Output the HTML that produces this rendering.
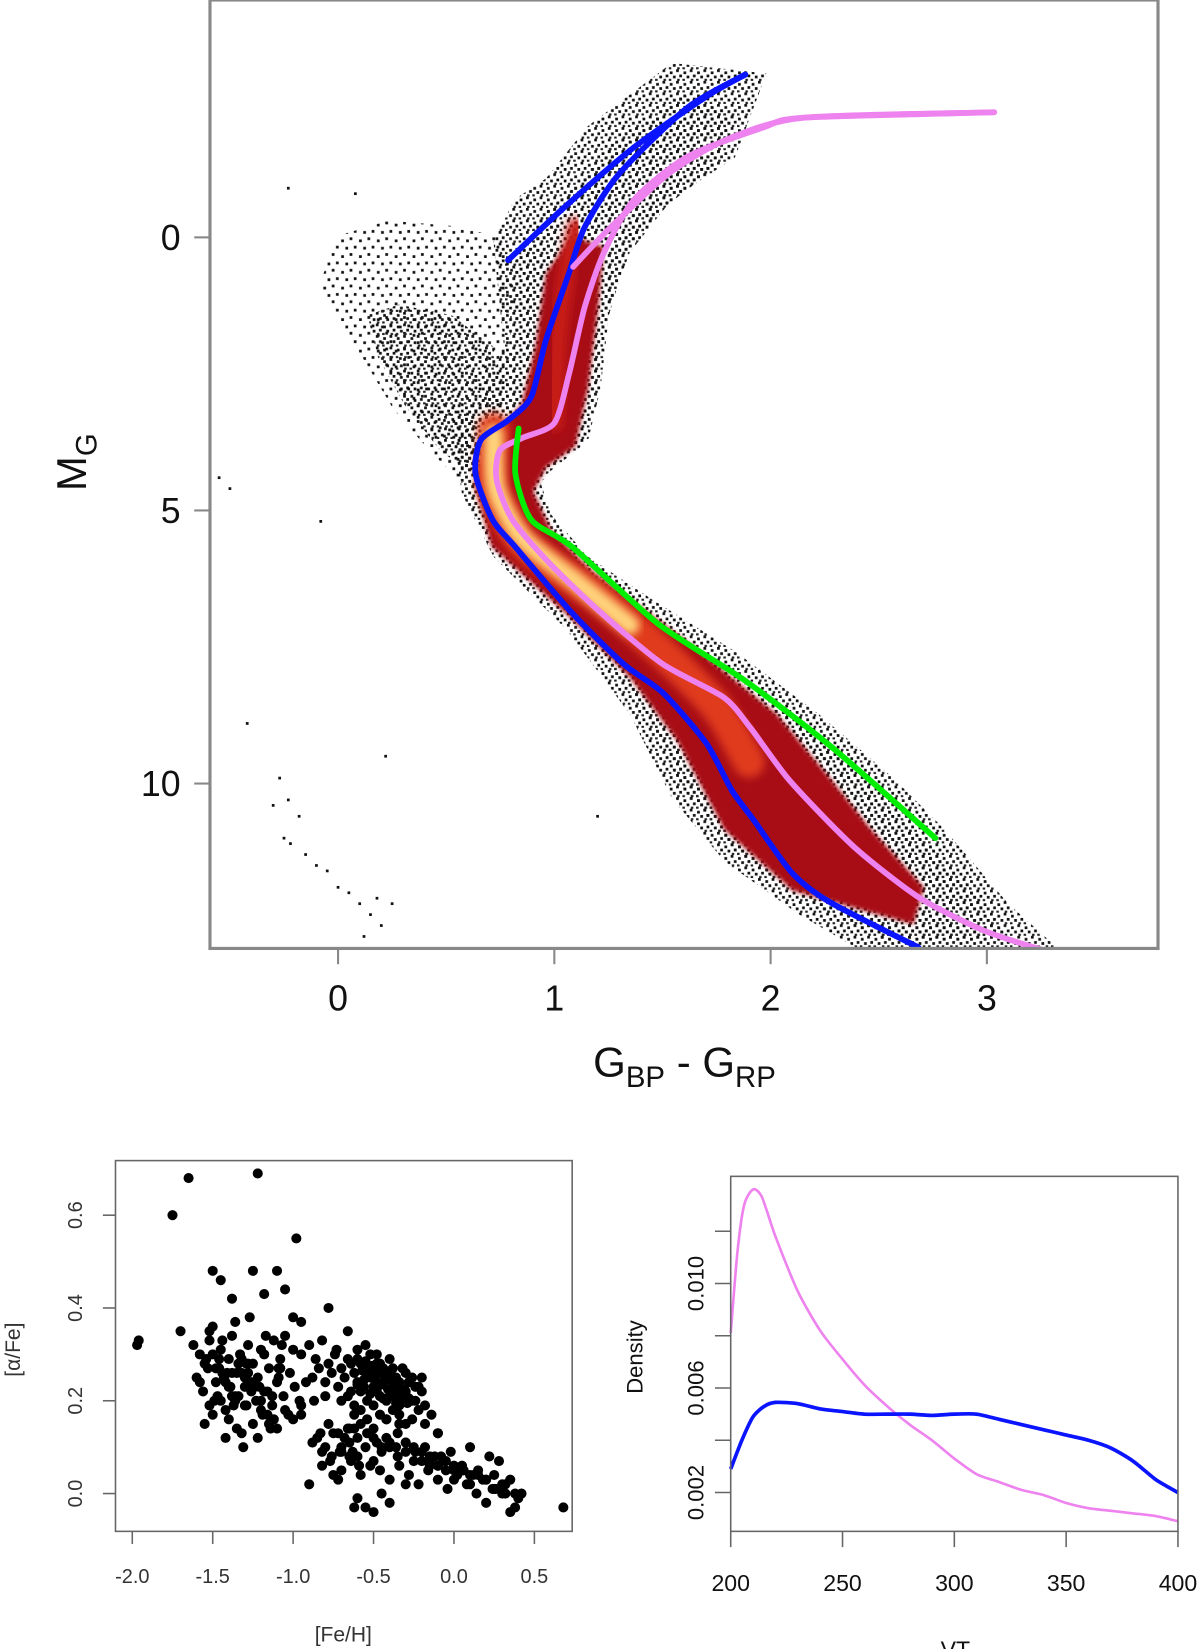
<!DOCTYPE html>
<html><head><meta charset="utf-8"><style>
html,body{margin:0;padding:0;background:#fff;}
svg{display:block;font-family:"Liberation Sans",sans-serif;}
</style></head><body>
<svg id="fig" width="1200" height="1649" viewBox="0 0 1143 1570" preserveAspectRatio="none" xmlns="http://www.w3.org/2000/svg">
<defs>
<filter id="blur2"><feGaussianBlur stdDeviation="2"/></filter>
<filter id="blur4"><feGaussianBlur stdDeviation="4"/></filter>
<pattern id="speck" width="13" height="11" patternUnits="userSpaceOnUse">
<rect x="1" y="2" width="2.6" height="2.6" fill="#111"/><rect x="7" y="0" width="2.6" height="2.6" fill="#111"/>
<rect x="10" y="5" width="2.6" height="2.6" fill="#111"/><rect x="4" y="6" width="2.6" height="2.6" fill="#111"/>
<rect x="0" y="9" width="2.4" height="2.4" fill="#222"/><rect x="8" y="9" width="2.4" height="2.4" fill="#222"/>
</pattern>
<pattern id="speck2" width="17" height="15" patternUnits="userSpaceOnUse">
<rect x="2" y="3" width="2.6" height="2.6" fill="#111"/><rect x="10" y="1" width="2.6" height="2.6" fill="#111"/>
<rect x="14" y="9" width="2.6" height="2.6" fill="#111"/><rect x="6" y="10" width="2.6" height="2.6" fill="#111"/>
</pattern>
<clipPath id="cmdclip"><rect x="200" y="0" width="903" height="903"/></clipPath>
</defs>
<g id="cmd"></g>
<g id="afe"></g>
<g id="dens"></g>
</svg>
<script>
// ---------- CMD chart data ----------
const blueMainX=[1.883,1.617,1.301,1.141,1.068,0.961,0.893,0.786,0.660,0.636,0.714,0.820,1.083,1.320,1.505,1.704,1.820,1.922,2.102,2.282,2.684];
const blueMainY=[-2.98,-2.38,-1.17,-0.19,0.65,1.88,2.92,3.35,3.71,4.33,5.17,5.67,6.88,7.81,8.35,9.27,10.12,10.67,11.65,12.19,13.0];
const blueBranchX=[0.786,1.049,1.369,1.704,1.883];
const blueBranchY=[0.42,-0.56,-1.65,-2.58,-2.98];
const pinkMainX=[3.034,2.150,1.971,1.617,1.369,1.228,1.141,1.068,1.0,0.854,0.748,0.733,0.806,0.981,1.218,1.5,1.782,1.903,2.087,2.383,2.684,2.985,3.267];
const pinkMainY=[-2.29,-2.19,-2.02,-1.48,-0.69,0.29,1.27,2.5,3.40,3.67,3.90,4.44,5.17,5.98,6.88,7.81,8.42,8.96,9.94,11.15,12.08,12.69,13.06];
const pinkBranchX=[1.087,1.262,1.529,1.796,2.150,3.034];
const pinkBranchY=[0.54,-0.19,-1.17,-1.79,-2.19,-2.29];
const greenX=[0.835,0.820,0.893,1.083,1.481,1.883,2.282,2.762];
const greenY=[3.5,4.33,5.17,5.67,7.08,8.12,9.33,11.0];
const cmdXTicks=[0,1,2,3];
const cmdYTicks=[0,5,10];
const outX=[-0.23,-0.18,-0.3,-0.25,-0.22,-0.15,-0.1,-0.05,0.0,0.05,0.1,0.15,0.2,0.18,0.25,-0.42,-0.5,-0.55,-0.08,0.22,0.08,-0.23,1.2,-0.27,0.12];
const outY=[10.3,10.6,10.4,11.0,11.1,11.3,11.5,11.6,11.9,12.0,12.2,12.4,12.6,12.1,12.2,8.9,4.6,4.4,5.2,9.5,-0.8,-0.9,10.6,9.9,12.8];
// ---------- [alpha/Fe] chart data ----------
const feh=[-1.97,-1.96,-1.75,-1.65,-1.22,-0.98,-1.7,-1.5,-1.45,-1.38,-1.25,-1.1,-1.05,-1.18,-0.78,-1.0,-0.95,
-1.62,-1.58,-1.55,-1.52,-1.5,-1.48,-1.45,-1.43,-1.4,-1.38,-1.35,-1.33,-1.3,-1.28,-1.25,-1.22,-1.2,-1.18,-1.15,-1.12,-1.1,-1.08,-1.05,-1.02,-1.0,
-1.6,-1.56,-1.53,-1.49,-1.46,-1.42,-1.39,-1.36,-1.32,-1.29,-1.26,-1.23,-1.19,-1.16,-1.13,-1.09,-1.06,-1.03,-0.99,-0.96,
-1.55,-1.5,-1.45,-1.4,-1.35,-1.3,-1.25,-1.2,-1.15,-1.1,-1.05,-1.0,-0.95,-1.42,-1.32,-1.22,-1.12,-1.48,-1.38,-1.28,-1.18,-1.08,
-1.52,-1.44,-1.36,-1.27,-1.17,-1.07,-1.34,-1.24,-1.14,-1.52,-1.31,
-0.95,-0.9,-0.86,-0.82,-0.78,-0.74,-0.7,-0.66,-0.62,-0.58,-0.54,-0.5,-0.46,-0.42,-0.38,-0.34,-0.3,-0.26,-0.22,
-0.88,-0.84,-0.8,-0.76,-0.72,-0.68,-0.64,-0.6,-0.56,-0.52,-0.48,-0.44,-0.4,-0.36,-0.32,-0.28,-0.24,-0.2,
-0.7,-0.66,-0.62,-0.58,-0.54,-0.5,-0.46,-0.42,-0.38,-0.34,-0.3,-0.26,-0.22,-0.18,
-0.64,-0.6,-0.56,-0.52,-0.48,-0.44,-0.4,-0.36,-0.32,-0.28,-0.24,-0.2,
-0.62,-0.58,-0.54,-0.5,-0.46,-0.42,-0.38,-0.34,-0.3,-0.26,-0.58,-0.5,-0.42,-0.34,-0.46,-0.38,-0.3,
-0.66,-0.55,-0.6,-0.48,-0.4,-0.18,-0.14,-0.1,
-0.85,-0.8,-0.75,-0.7,-0.65,-0.6,-0.55,-0.5,-0.45,-0.4,-0.35,-0.3,-0.25,-0.2,-0.15,-0.1,-0.05,0.0,0.05,0.1,0.15,0.2,0.25,0.3,0.35,
-0.82,-0.76,-0.7,-0.64,-0.58,-0.52,-0.46,-0.4,-0.34,-0.28,-0.22,-0.16,-0.1,-0.04,0.02,0.08,0.14,0.2,0.26,0.32,0.38,
-0.78,-0.72,-0.66,-0.6,-0.54,-0.48,-0.42,-0.36,-0.3,-0.24,-0.18,-0.12,-0.06,0.0,0.06,0.12,0.18,0.24,0.3,0.4,
-0.9,-0.75,-0.6,-0.45,-0.3,-0.15,-0.08,0.05,0.2,0.35,0.38,0.42,0.68,-0.62,-0.5,-0.55,-0.4,
-0.95,-0.88,-0.82,-0.72,-0.62,-0.1,-0.02,0.1,0.22,0.28,
-0.6,-0.56,-0.52,-0.48,-0.44,-0.4,-0.36,-0.32,-0.28,-0.57,-0.53,-0.49,-0.45,-0.41,-0.37,-0.33,-0.29,-0.55,-0.51,-0.47,-0.43,-0.39,-0.35,-0.31,
-1.5,-1.46,-1.42,-1.38,-1.34,-1.3,-1.26,-1.44,-1.4,-1.36,-1.32,-1.28,-1.24,-1.2,-1.16,
-0.5,-0.45,-0.4,-0.3,-0.2,-0.1,-0.05,0.0,0.1,0.15,0.25,0.32,-0.35,-0.25,-0.15,0.05,-0.7,-0.65,
-1.58,-1.54,-1.47,-1.41,-1.37,-1.29,-1.21,-1.13,-1.09,-0.92,-0.87,-0.8,-0.73,-0.68,-0.63,-0.59,-0.71,-0.77,-0.83,-0.65];
const afe=[0.32,0.33,0.6,0.68,0.69,0.55,0.35,0.48,0.46,0.42,0.48,0.48,0.44,0.43,0.40,0.38,0.37,
0.32,0.3,0.28,0.33,0.36,0.27,0.31,0.25,0.29,0.34,0.26,0.30,0.23,0.32,0.28,0.25,0.31,0.22,0.27,0.33,0.24,0.29,0.34,0.26,0.31,
0.25,0.22,0.27,0.2,0.29,0.18,0.23,0.21,0.26,0.19,0.24,0.2,0.17,0.22,0.19,0.25,0.21,0.17,0.23,0.2,
0.15,0.17,0.2,0.16,0.14,0.19,0.15,0.18,0.15,0.14,0.18,0.16,0.19,0.12,0.13,0.12,0.16,0.24,0.26,0.28,0.3,0.27,
0.35,0.33,0.37,0.38,0.34,0.32,0.21,0.23,0.14,0.19,0.10,
0.3,0.32,0.29,0.33,0.28,0.3,0.27,0.29,0.26,0.28,0.27,0.26,0.28,0.25,0.27,0.24,0.26,0.25,0.23,
0.25,0.27,0.24,0.26,0.23,0.25,0.22,0.24,0.23,0.25,0.22,0.24,0.21,0.23,0.22,0.24,0.2,0.22,
0.2,0.21,0.19,0.22,0.2,0.23,0.21,0.2,0.22,0.19,0.21,0.2,0.18,0.19,
0.28,0.29,0.27,0.3,0.28,0.27,0.26,0.25,0.27,0.24,0.23,0.25,
0.17,0.18,0.16,0.19,0.17,0.16,0.18,0.17,0.15,0.16,0.15,0.14,0.16,0.15,0.26,0.24,0.22,
0.35,0.32,0.31,0.3,0.29,0.15,0.17,0.13,
0.12,0.1,0.13,0.09,0.11,0.08,0.1,0.07,0.09,0.1,0.08,0.11,0.07,0.09,0.08,0.06,0.07,0.05,0.06,0.04,0.05,0.03,0.04,0.02,0.03,
0.06,0.08,0.05,0.07,0.04,0.06,0.05,0.03,0.06,0.04,0.02,0.05,0.03,0.01,0.04,0.02,0.0,0.03,0.01,0.02,0.0,
0.15,0.13,0.14,0.12,0.13,0.11,0.12,0.1,0.11,0.09,0.1,0.08,0.07,0.06,0.05,0.04,0.03,0.01,0.0,-0.01,
0.02,0.04,-0.01,0.0,0.02,0.06,0.08,0.05,-0.02,-0.04,-0.03,0.0,-0.03,-0.03,-0.04,-0.03,-0.02,
0.17,0.11,0.09,0.03,0.14,0.13,0.09,0.1,0.08,0.07,
0.235,0.245,0.215,0.235,0.205,0.225,0.195,0.215,0.205,0.265,0.255,0.245,0.235,0.225,0.215,0.205,0.195,0.285,0.275,0.265,0.255,0.245,0.235,0.225,
0.3,0.27,0.24,0.21,0.28,0.25,0.22,0.26,0.23,0.2,0.29,0.26,0.23,0.2,0.17,
0.12,0.1,0.11,0.09,0.07,0.06,0.05,0.03,0.02,0.04,0.01,0.0,0.13,0.1,0.07,0.05,0.1,0.08,
0.24,0.29,0.21,0.26,0.19,0.28,0.23,0.21,0.27,0.24,0.2,0.21,0.31,0.12,0.09,0.06,0.09,0.07,0.13,0.14];
const afeXTicks=[-2.0,-1.5,-1.0,-0.5,0.0,0.5];
const afeXLabels=["-2.0","-1.5","-1.0","-0.5","0.0","0.5"];
const afeYTicks=[0.0,0.2,0.4,0.6];
const afeYLabels=["0.0","0.2","0.4","0.6"];
// ---------- Density chart data ----------
const vtPink=[200,203,206,210,214,220,230,240,250,260,270,280,290,300,310,320,330,340,350,360,370,380,390,400];
const densPink=[0.0081,0.0112,0.0130,0.0136,0.0133,0.0118,0.0097,0.0082,0.0071,0.0061,0.0053,0.0046,0.0040,0.0033,0.0027,0.0024,0.0021,0.0019,0.0016,0.0014,0.0013,0.0012,0.0011,0.0009];
const vtBlue=[200,205,210,215,220,230,240,250,260,270,280,290,300,310,320,330,340,350,360,370,380,390,400];
const densBlue=[0.0029,0.0040,0.0049,0.0053,0.00545,0.0054,0.0052,0.0051,0.0050,0.0050,0.0050,0.00495,0.0050,0.0050,0.0048,0.0046,0.0044,0.0042,0.0040,0.0037,0.0032,0.0025,0.0020];
const densXTicks=[200,250,300,350,400];
const densYTicks=[0.002,0.004,0.006,0.008,0.010,0.012];
const densYLabels={"0.002":"0.002","0.006":"0.006","0.010":"0.010"};

const NS="http://www.w3.org/2000/svg";
function mk(parent,tag,attrs){const e=document.createElementNS(NS,tag);for(const k in attrs)e.setAttribute(k,attrs[k]);parent.appendChild(e);return e;}
function smoothPath(xs,ys,sx,sy){const p=xs.map((v,i)=>[sx(v),sy(ys[i])]);let d='M'+p[0][0].toFixed(1)+','+p[0][1].toFixed(1);for(let i=0;i<p.length-1;i++){const p0=p[i-1]||p[i],p1=p[i],p2=p[i+1],p3=p[i+2]||p2;const c1=[p1[0]+(p2[0]-p0[0])/8,p1[1]+(p2[1]-p0[1])/8],c2=[p2[0]-(p3[0]-p1[0])/8,p2[1]-(p3[1]-p1[1])/8];d+=` C${c1[0].toFixed(1)},${c1[1].toFixed(1)} ${c2[0].toFixed(1)},${c2[1].toFixed(1)} ${p2[0].toFixed(1)},${p2[1].toFixed(1)}`;}return d;}
function poly(pts){return 'M'+pts.map(p=>p.join(',')).join(' L')+' Z';}

// ===== CMD =====
(function(){
const g=document.getElementById('cmd');
const sx=v=>322+206*v, sy=v=>226+52*v;
const clip=mk(g,'g',{'clip-path':'url(#cmdclip)'});


const cloud=mk(clip,'g',{});


const env=[[430,400],[440,470],[470,530],[540,600],[600,680],[640,760],[690,820],[760,870],[820,905],[1010,905],[960,860],[900,790],[850,740],[780,680],[700,620],[620,570],[560,530],[525,490],[515,460],[530,440],[555,420],[568,370],[578,300],[600,240],[640,190],[700,150],[730,70],[640,60],[560,120],[520,170],[490,190],[470,230],[480,330],[460,380]];
mk(cloud,'path',{d:poly(env),fill:'url(#speck)'});
const hb=[[305,270],[320,225],[370,210],[430,215],[475,225],[490,260],[485,340],[470,420],[440,460],[410,430],[375,390],[345,340],[320,300]];
mk(cloud,'path',{d:poly(hb),fill:'url(#speck2)'});
const hb2=[[350,300],[380,290],[430,300],[470,330],[480,400],[450,450],[420,430],[385,385],[360,340]];
mk(cloud,'path',{d:poly(hb2),fill:'url(#speck)'});
const inner=[[440,420],[450,480],[480,530],[550,595],[610,670],[650,750],[700,810],[770,860],[840,895],[960,895],[930,850],[870,790],[820,740],[750,680],[670,625],[590,575],[540,535],[515,495],[510,460],[535,440],[560,420],[572,370],[580,300],[598,240],[630,200],[680,160],[700,110],[650,90],[580,140],[545,180],[510,210],[490,250],[490,330],[470,380]];
mk(cloud,'path',{d:poly(inner),fill:'url(#speck)'});
const red=[[462,420],[452,460],[468,520],[540,585],[600,645],[645,705],[690,790],[755,848],[870,880],[880,845],[830,790],[790,740],[740,680],[660,615],[565,545],[525,505],[508,468],[520,445],[548,425],[560,370],[570,290],[575,235],[545,225],[520,260],[510,330],[497,385]];
mk(cloud,'path',{d:poly(red),fill:'#a80f12',filter:'url(#blur2)'});
mk(cloud,'path',{d:smoothPath([1.0,1.02,1.06,1.1],[3.4,1.8,0.6,-0.2],sx,sy),fill:'none',stroke:'#c81a14','stroke-width':16,'stroke-linecap':'round',filter:'url(#blur4)'});
mk(cloud,'path',{d:smoothPath([0.72,0.72,0.86,1.2,1.5,1.75,1.9],[3.5,4.6,5.6,6.6,7.6,8.6,9.6],sx,sy),fill:'none',stroke:'#e03a1c','stroke-width':30,'stroke-linecap':'round',filter:'url(#blur4)'});
mk(cloud,'path',{d:smoothPath([0.72,0.73,0.85,1.1,1.35],[3.6,4.6,5.5,6.3,7.1],sx,sy),fill:'none',stroke:'#ffd37a','stroke-width':18,'stroke-linecap':'round',filter:'url(#blur4)'});
outX.forEach((v,i)=>{const r=mk(clip,'rect',{x:sx(v)-1.3,y:sy(outY[i])-1.3,width:2.6,height:2.6,fill:'#111'});

});
const curves=[
 ['blue-isochrone-main',blueMainX,blueMainY,'#0a14ff'],
 ['blue-isochrone-branch',blueBranchX,blueBranchY,'#0a14ff'],
 ['pink-isochrone-main',pinkMainX,pinkMainY,'#ee82ee'],
 ['pink-isochrone-branch',pinkBranchX,pinkBranchY,'#ee82ee'],
 ['green-isochrone',greenX,greenY,'#00ee00']];
curves.forEach(c=>{const p=mk(clip,'path',{d:smoothPath(c[1],c[2],sx,sy),fill:'none',stroke:c[3],'stroke-width':5.5,'stroke-linecap':'round','stroke-linejoin':'round'});

});
const fr=mk(g,'rect',{x:200,y:0,width:903,height:903,fill:'none',stroke:'#888','stroke-width':3});


cmdXTicks.forEach(t=>{mk(g,'line',{x1:sx(t),x2:sx(t),y1:903,y2:918,stroke:'#888','stroke-width':2});
const l=mk(g,'text',{x:sx(t),y:962,'font-size':34,'text-anchor':'middle',fill:'#111'});l.textContent=t;

});
cmdYTicks.forEach(t=>{mk(g,'line',{x1:185,x2:200,y1:sy(t),y2:sy(t),stroke:'#888','stroke-width':2});
const l=mk(g,'text',{x:172,y:sy(t)+12,'font-size':34,'text-anchor':'end',fill:'#111'});l.textContent=t;

});
const xt=mk(g,'text',{x:652,y:1025,'font-size':40,'text-anchor':'middle',fill:'#111'});
xt.innerHTML='G<tspan font-size="28" dy="10">BP</tspan><tspan dy="-10"> - G</tspan><tspan font-size="28" dy="10">RP</tspan>';


const yt=mk(g,'text',{transform:'translate(82,440) rotate(-90)','font-size':40,'text-anchor':'middle',fill:'#111'});
yt.innerHTML='M<tspan font-size="28" dy="10">G</tspan>';


})();

// ===== [alpha/Fe] =====
(function(){
const g=document.getElementById('afe');
const sx=v=>126+153.2*(v+2), sy=v=>1422-441.7*v;
const pts=mk(g,'g',{});


feh.forEach((v,i)=>{const c=mk(pts,'circle',{cx:sx(v),cy:sy(afe[i]),r:4.8,fill:'#000'});

});
const fr=mk(g,'rect',{x:110,y:1105,width:435,height:353,fill:'none',stroke:'#666','stroke-width':1.5});


afeXTicks.forEach((t,i)=>{mk(g,'line',{x1:sx(t),x2:sx(t),y1:1458,y2:1470,stroke:'#666','stroke-width':1.5});
const l=mk(g,'text',{x:sx(t),y:1507,'font-size':19,'text-anchor':'middle',fill:'#333'});l.textContent=afeXLabels[i];

});
afeYTicks.forEach((t,i)=>{mk(g,'line',{x1:98,x2:110,y1:sy(t),y2:sy(t),stroke:'#666','stroke-width':1.5});
const l=mk(g,'text',{transform:`translate(78,${sy(t)}) rotate(-90)`,'font-size':19,'text-anchor':'middle',fill:'#333'});l.textContent=afeYLabels[i];

});
const xt=mk(g,'text',{x:327,y:1563,'font-size':20,'text-anchor':'middle',fill:'#333'});xt.textContent='[Fe/H]';


const yt=mk(g,'text',{transform:'translate(19,1285) rotate(-90)','font-size':20,'text-anchor':'middle',fill:'#333'});yt.textContent='[α/Fe]';


})();

// ===== Density =====
(function(){
const g=document.getElementById('dens');
const sx=v=>696+2.13*(v-200), sy=v=>1421-24875*(v-0.002);
const pp=mk(g,'path',{d:smoothPath(vtPink,densPink,sx,sy),fill:'none',stroke:'#ee82ee','stroke-width':2.5});


const bp=mk(g,'path',{d:smoothPath(vtBlue,densBlue,sx,sy),fill:'none',stroke:'#0a14ff','stroke-width':3.5});


const fr=mk(g,'rect',{x:696,y:1120,width:426,height:338,fill:'none',stroke:'#666','stroke-width':1.5});


densXTicks.forEach(t=>{mk(g,'line',{x1:sx(t),x2:sx(t),y1:1458,y2:1473,stroke:'#666','stroke-width':1.5});
const l=mk(g,'text',{x:sx(t),y:1515,'font-size':22,'text-anchor':'middle',fill:'#111'});l.textContent=t;

});
densYTicks.forEach(t=>{mk(g,'line',{x1:681,x2:696,y1:sy(t),y2:sy(t),stroke:'#666','stroke-width':1.5});
const key=t.toFixed(3);if(densYLabels[key]){const l=mk(g,'text',{transform:`translate(670,${sy(t)}) rotate(-90)`,'font-size':21,'text-anchor':'middle',fill:'#111'});l.textContent=densYLabels[key];

}});
const xt=mk(g,'text',{x:910,y:1578,'font-size':22,'text-anchor':'middle',fill:'#111'});xt.textContent='VT';


const yt=mk(g,'text',{transform:'translate(612,1292) rotate(-90)','font-size':21,'text-anchor':'middle',fill:'#111'});yt.textContent='Density';


})();
</script>
</body></html>
